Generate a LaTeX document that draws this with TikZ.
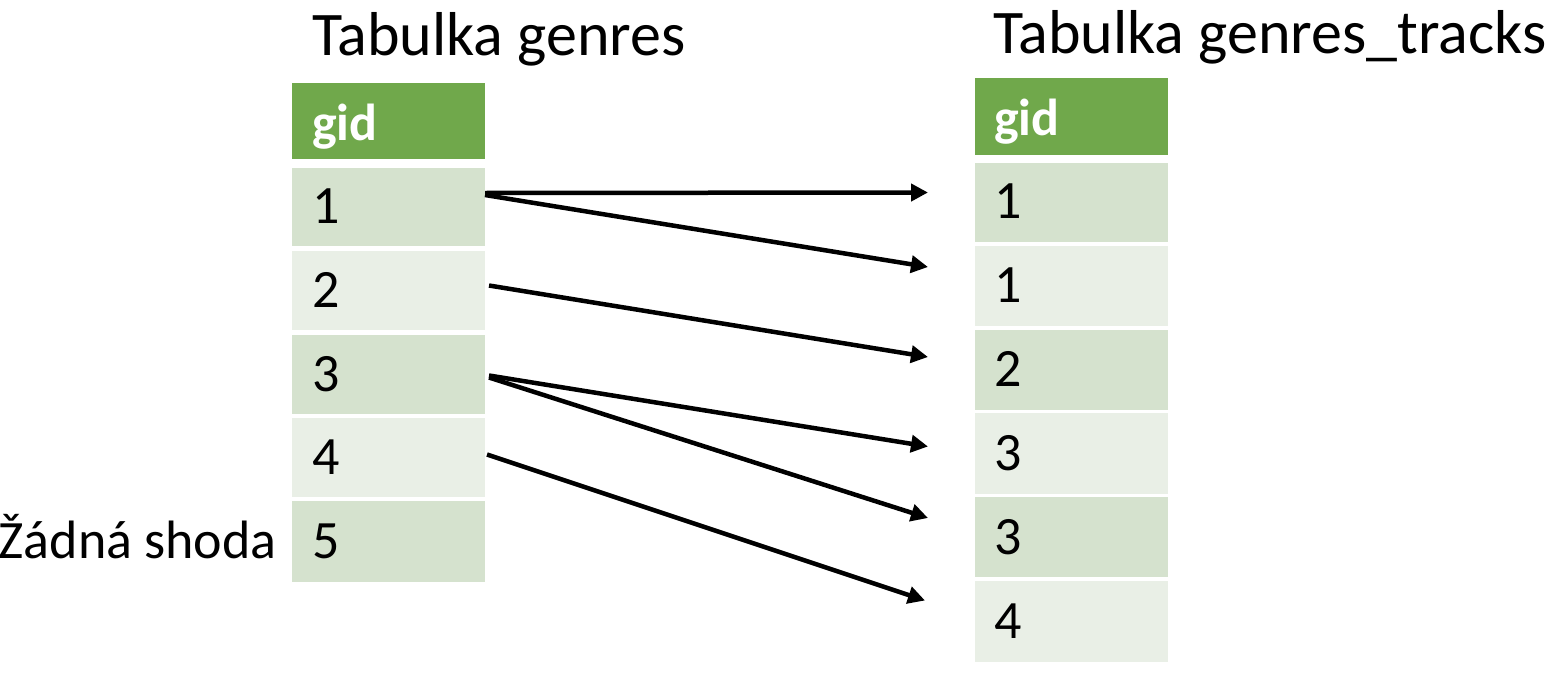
\documentclass[tikz,border=0pt]{standalone}
\usepackage{fontspec}
\setmainfont{Carlito}
\usetikzlibrary{arrows.meta}
\definecolor{hdr}{HTML}{70A84B}
\definecolor{rowdark}{HTML}{D5E2CE}
\definecolor{rowlight}{HTML}{E9EFE6}
\tikzset{
  cell/.style={minimum width=193pt, inner sep=0pt, outer sep=0pt, anchor=north west},
  hdrcell/.style={cell, fill=hdr},
  dcell/.style={cell, fill=rowdark},
  lcell/.style={cell, fill=rowlight},
  celltext/.style={font=\fontsize{54}{54}\selectfont, anchor=base west, inner sep=0pt},
  hdrtext/.style={font=\fontsize{52}{52}\selectfont\bfseries, text=white, anchor=base west, inner sep=0pt},
  title/.style={font=\fontsize{62}{62}\selectfont, anchor=base west, inner sep=0pt},
  arr/.style={line width=4.5pt, -{Triangle[length=17pt,width=17pt]}}
}
\begin{document}
\begin{tikzpicture}[x=1pt,y=-1pt]
\useasboundingbox (0,0) rectangle (1556,688);
% titles
\node[title] (t1) at (312,55) {Tabulka genres};
\node[title] (t2) at (993,53) {Tabulka genres\_tracks};
% left table
\node[hdrcell, minimum height=76pt] (LH) at (292,83) {};
\node[dcell, minimum height=78pt] (L1) at (292,168) {};
\node[lcell, minimum height=79pt] (L2) at (292,251) {};
\node[dcell, minimum height=79pt] (L3) at (292,335) {};
\node[lcell, minimum height=79pt] (L4) at (292,418) {};
\node[dcell, minimum height=81pt] (L5) at (292,501) {};
\node[hdrtext] (LHt) at (312,140) {gid};
\node[celltext] (L1t) at (312,223) {1};
\node[celltext] (L2t) at (312,307) {2};
\node[celltext] (L3t) at (312,391) {3};
\node[celltext] (L4t) at (312,474) {4};
\node[celltext] (L5t) at (312,558) {5};
\node[celltext, anchor=base east] (nm) at (277,558) {Žádná shoda};
% right table
\node[hdrcell, minimum height=77pt] (RH) at (975,78) {};
\node[dcell, minimum height=79pt] (R1) at (975,163) {};
\node[lcell, minimum height=80pt] (R2) at (975,246) {};
\node[dcell, minimum height=80pt] (R3) at (975,330) {};
\node[lcell, minimum height=81pt] (R4) at (975,413) {};
\node[dcell, minimum height=80pt] (R5) at (975,497) {};
\node[lcell, minimum height=81pt] (R6) at (975,581) {};
\node[hdrtext] (RHt) at (994,135) {gid};
\node[celltext] (R1t) at (994,218) {1};
\node[celltext] (R2t) at (994,302) {1};
\node[celltext] (R3t) at (994,386) {2};
\node[celltext] (R4t) at (994,470) {3};
\node[celltext] (R5t) at (994,554) {3};
\node[celltext] (R6t) at (994,638) {4};
% arrows
\draw[arr] ([shift={(0,-14)}]L1.east) -- ([shift={(-47,-10)}]R1.west);
\draw[arr] ([shift={(0,-12)}]L1.east) -- ([shift={(-47,-19)}]R2.west);
\draw[arr] ([shift={(4,-5)}]L2.east) -- ([shift={(-47,-13)}]R3.west);
\draw[arr] ([shift={(4,1)}]L3.east) -- ([shift={(-47,-7)}]R4.west);
\draw[arr] ([shift={(4,3)}]L3.east) -- ([shift={(-47,-19)}]R5.west);
\draw[arr] ([shift={(2,-3)}]L4.east) -- ([shift={(-50,-21)}]R6.west);
\end{tikzpicture}
\end{document}
